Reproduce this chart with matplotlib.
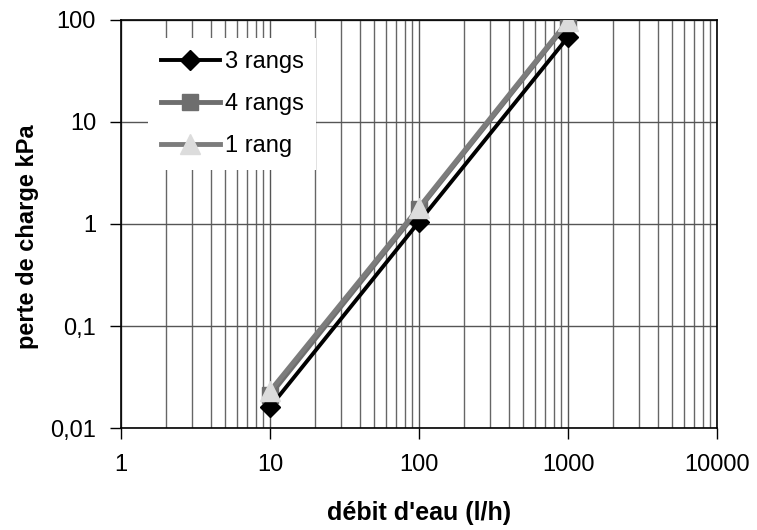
import numpy as np
import matplotlib.pyplot as plt
from matplotlib.ticker import FixedLocator, FixedFormatter, NullFormatter, LogLocator

plt.rcParams['font.family'] = ['Liberation Sans', 'DejaVu Sans']

# débit d'eau (l/h) et pertes de charge (kPa)
debit = [10, 100, 1000]
perte_3_rangs = [0.016, 1.05, 68]
perte_4_rangs = [0.021, 1.4, 95]
perte_1_rang = [0.023, 1.45, 98]

x_ticks = [1, 10, 100, 1000, 10000]
x_labels = ['1', '10', '100', '1000', '10000']
y_ticks = [0.01, 0.1, 1, 10, 100]
y_labels = ['0,01', '0,1', '1', '10', '100']

fig = plt.figure(figsize=(7.57, 5.30), dpi=100)
ax = fig.add_axes([121 / 757, 1 - 428 / 530, 596 / 757, 408 / 530])

ax.plot(debit, perte_3_rangs, color='black', lw=2.8, marker='D', ms=10,
        mfc='black', mec='black', label='3 rangs', zorder=5)
ax.plot(debit, perte_4_rangs, color='#6e6e6e', lw=3.5, marker='s', ms=11,
        mfc='#6e6e6e', mec='#6e6e6e', label='4 rangs', zorder=4)
ax.plot(debit, perte_1_rang, color='#7c7c7c', lw=3.5, marker='^', ms=14,
        mfc='#dcdcdc', mec='#dcdcdc', label='1 rang', zorder=6)

ax.set_xscale('log')
ax.set_yscale('log')
ax.set_xlim(1, 10000)
ax.set_ylim(0.01, 100)

ax.xaxis.set_major_locator(FixedLocator(x_ticks))
ax.xaxis.set_major_formatter(FixedFormatter(x_labels))
ax.xaxis.set_minor_locator(LogLocator(base=10, subs=np.arange(2, 10)))
ax.xaxis.set_minor_formatter(NullFormatter())
ax.yaxis.set_major_locator(FixedLocator(y_ticks))
ax.yaxis.set_major_formatter(FixedFormatter(y_labels))
ax.yaxis.set_minor_locator(FixedLocator([]))

ax.grid(True, which='major', axis='both', color='#555555', lw=1.0)
ax.grid(True, which='minor', axis='x', color='#666666', lw=1.0)
ax.set_axisbelow(True)

ax.tick_params(axis='both', which='major', direction='out', length=8,
               width=1, labelsize=17, pad=11)
ax.tick_params(axis='y', which='major', pad=10)
ax.tick_params(axis='both', which='minor', length=0)
for s in ax.spines.values():
    s.set_linewidth(1.2)
    s.set_color('black')

ax.set_xlabel("débit d'eau (l/h)", fontsize=18, fontweight='bold', labelpad=18)
ax.set_ylabel('perte de charge kPa', fontsize=17, fontweight='bold', labelpad=6)
ax.yaxis.set_label_coords(-0.138, 0.47)

leg = ax.legend(loc='upper left', bbox_to_anchor=(0.045, 0.956), fontsize=17,
                frameon=True, fancybox=False, edgecolor='none',
                framealpha=1, handlelength=2.5, handletextpad=0.2,
                labelspacing=0.85, borderpad=0.55, borderaxespad=0)

fig.savefig('out.png', dpi=100)
